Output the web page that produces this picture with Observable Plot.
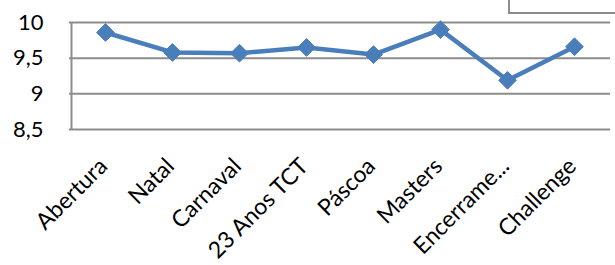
<!DOCTYPE html>
<html><head><meta charset="utf-8">
<script src="https://cdn.jsdelivr.net/npm/d3@7"></script>
<script src="https://cdn.jsdelivr.net/npm/@observablehq/plot@0.6"></script>
<style>
html,body{margin:0;padding:0;background:#fff;}
#wrap{position:relative;width:615px;height:265px;overflow:hidden;}
#legendbox{position:absolute;left:508px;top:-4px;width:120px;height:16px;border-left:2px solid #8c8c8c;border-bottom:2px solid #8c8c8c;}
</style>
</head><body>
<div id="wrap"><div id="legendbox"></div></div>
<script>
const categories = ["Abertura","Natal","Carnaval","23 Anos TCT","Páscoa","Masters","Encerrame...","Challenge"];
const values = [9.86, 9.58, 9.57, 9.65, 9.55, 9.90, 9.19, 9.66];
const yTicks = [8.5, 9, 9.5, 10];

const data = categories.map((c, i) => ({cat: c, v: values[i]}));
const fmt = v => String(v).replace(".", ",");

const chart = Plot.plot({
  width: 615, height: 265,
  marginLeft: 69, marginRight: 5, marginTop: 22, marginBottom: 136,
  style: {fontFamily: "Lato, 'Open Sans', sans-serif", background: "white"},
  x: {type: "point", domain: categories, padding: 0.5, axis: null},
  y: {domain: [8.5, 10], axis: null},
  marks: [
    Plot.ruleY(yTicks, {stroke: "#8c8c8c", strokeWidth: 2}),
    Plot.ruleX([0], {x: () => categories[0], dx: -34, stroke: "#8c8c8c", strokeWidth: 2, y1: 8.5, y2: 10}),
    Plot.text(yTicks, {y: d => d, frameAnchor: "left", dx: -26, textAnchor: "end", text: fmt, fontSize: 22, fill: "#000"}),
    Plot.line(data, {x: "cat", y: "v", stroke: "#4a7ebb", strokeWidth: 4.5}),
    Plot.dot(data, {x: "cat", y: "v", symbol: "diamond2", r: 8, fill: "#4a7ebb", stroke: "#4a7ebb", strokeWidth: 1}),
    Plot.text(categories, {x: d => d, frameAnchor: "bottom", lineAnchor: "middle", text: d => d, rotate: -45, textAnchor: "end", dx: -2, dy: 33, fontSize: 23, fill: "#000"})
  ]
});
document.getElementById("wrap").prepend(chart);
</script>
</body></html>
